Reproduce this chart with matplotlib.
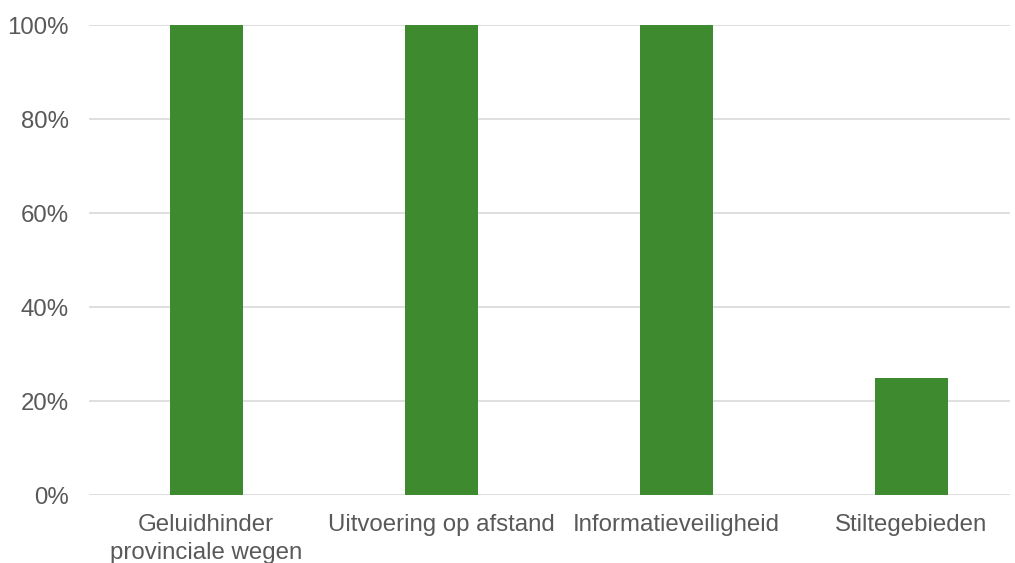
import numpy as np
import matplotlib
matplotlib.use("Agg")
import matplotlib.pyplot as plt
from matplotlib.ticker import FuncFormatter

## Data
categories = ["Geluidhinder\nprovinciale wegen", "Uitvoering op afstand",
              "Informatieveiligheid", "Stiltegebieden"]
values = [100, 100, 100, 25]

plt.rcParams['font.family'] = ['Liberation Sans', 'DejaVu Sans']

fig = plt.figure(figsize=(10.15, 5.63), dpi=100)
W, H = 1015, 563
left, right, top, bottom = 88.5, 1010, 25, 495
ax = fig.add_axes([left / W, 1 - bottom / H, (right - left) / W, (bottom - top) / H])

x = np.arange(len(categories))
ax.bar(x, values, width=73 / 235, color="#3E8A2F", zorder=3)

ax.set_ylim(0, 100)
ax.set_xlim(-0.5, (right - left) / 235 - 0.5)
ax.set_yticks(np.arange(0, 101, 20))
ax.yaxis.set_major_formatter(FuncFormatter(lambda v, p: "{:.0f}%".format(v)))
ax.grid(axis="y", color="#D9D9D9", linewidth=1.2, zorder=0)
ax.set_xticks(x)
ax.set_xticklabels(categories, linespacing=1.3)

for s in ax.spines.values():
    s.set_visible(False)
ax.tick_params(length=0, labelsize=17.3, labelcolor="#595959")
ax.tick_params(axis="y", pad=14)
ax.tick_params(axis="x", pad=14)

fig.savefig("out.png", dpi=100)
